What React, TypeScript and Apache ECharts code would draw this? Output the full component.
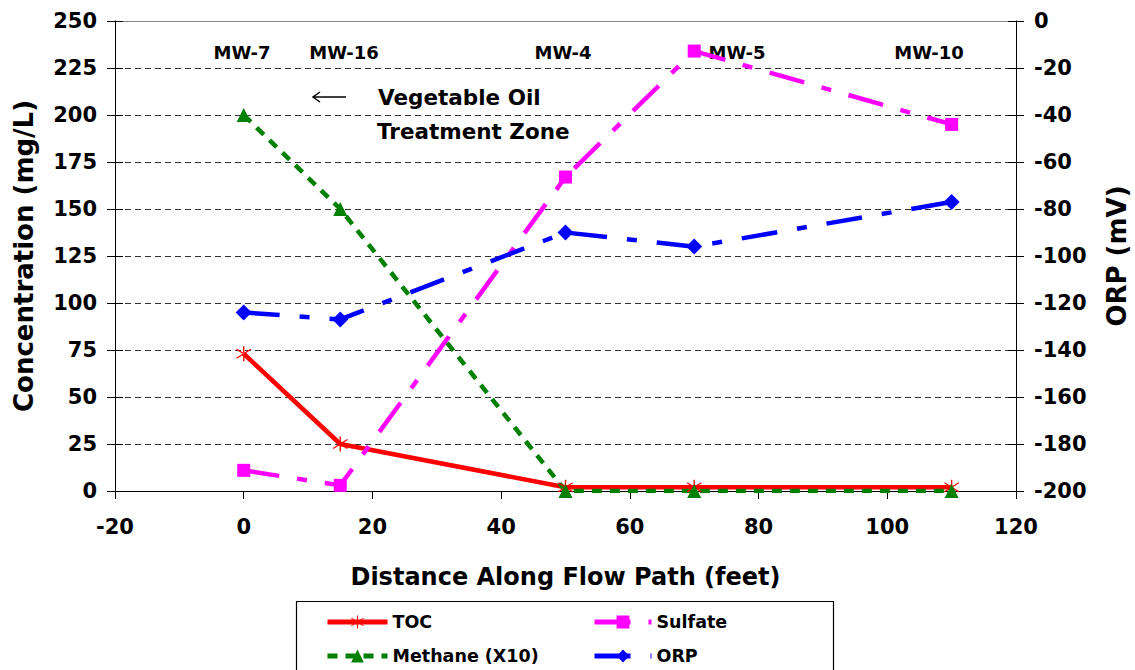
import React, { useEffect, useRef } from "react";
import * as echarts from "echarts";

const xDistance = [0, 15, 50, 70, 110];
const tocValues = [73, 25, 2, 2, 2];
const sulfateValues = [11, 3, 167, 234, 195];
const methaneValues = [200, 150, 0, 0, 0];
const orpValues = [-124, -127, -90, -96, -77];

const wellLabels = ["MW-7", "MW-16", "MW-4", "MW-5", "MW-10"];
const wellLabelX = [242, 344, 563, 737, 929];

const FONT = "DejaVu Sans";
const asterisk =
  "path://M9.2 0L10.8 0L10.8 20L9.2 20Z M1.1 4.6L18.1 16.6L18.9 15.4L1.9 3.4Z M1.9 16.6L18.9 4.6L18.1 3.4L1.1 15.4Z";

const pairs = (ys: number[]) => xDistance.map((x, i) => [x, ys[i]]);

export default function App() {
  const ref = useRef<HTMLDivElement>(null);
  useEffect(() => {
    if (!ref.current) return;
    const chart = echarts.init(ref.current, null, { renderer: "svg" });
    const tickLabel = { fontFamily: FONT, fontWeight: "bold" as const, fontSize: 21, color: "#000" };
    const nameStyle = { fontFamily: FONT, fontWeight: "bold" as const, fontSize: 24, color: "#000" };
    const yNameStyle = { fontFamily: FONT, fontWeight: "bold" as const, fontSize: 26, color: "#000" };
    const legendText = { fontFamily: FONT, fontWeight: "bold" as const, fontSize: 17.5, color: "#000" };
    const mkLegend = (name: string, left: number, top: number, w: number) => ({
      data: [name],
      left,
      top,
      itemWidth: w,
      itemHeight: 16,
      selectedMode: false,
      textStyle: legendText,
      lineStyle: { width: 5 },
    });
    chart.setOption({
      animation: false,
      backgroundColor: "#fff",
      grid: { left: 115, right: 119, top: 21, bottom: 179, containLabel: false, outerBoundsMode: "none" },
      xAxis: [
        {
          type: "value",
          min: -20,
          max: 120,
          interval: 20,
          position: "bottom",
          axisLine: { show: true, onZero: false, lineStyle: { color: "#000", width: 1 } },
          axisTick: { show: true, length: 8, lineStyle: { color: "#000" } },
          axisLabel: { ...tickLabel, margin: 25 },
          splitLine: { show: false },
          name: "Distance Along Flow Path (feet)",
          nameLocation: "middle",
          nameGap: 74,
          nameTextStyle: nameStyle,
        },
        {
          type: "value",
          min: -20,
          max: 120,
          interval: 20,
          position: "top",
          axisLine: { show: true, onZero: false, lineStyle: { color: "#888", width: 1 } },
          axisTick: { show: false },
          axisLabel: { show: false },
          splitLine: { show: false },
        },
      ],
      yAxis: [
        {
          type: "value",
          min: 0,
          max: 250,
          interval: 25,
          position: "left",
          axisLine: { show: true, onZero: false, lineStyle: { color: "#000" } },
          axisTick: { show: true, length: 8, lineStyle: { color: "#000" } },
          axisLabel: { ...tickLabel, margin: 18 },
          splitLine: { show: true, lineStyle: { color: "#333", type: [6, 4], width: 1 } },
          name: "Concentration (mg/L)",
          nameLocation: "middle",
          nameGap: 78,
          nameTextStyle: yNameStyle,
        },
        {
          type: "value",
          min: -200,
          max: 0,
          interval: 20,
          position: "right",
          axisLine: { show: true, onZero: false, lineStyle: { color: "#000" } },
          axisTick: { show: true, length: 8, lineStyle: { color: "#000" } },
          axisLabel: { ...tickLabel, margin: 18 },
          splitLine: { show: false },
          name: "ORP (mV)",
          nameLocation: "middle",
          nameGap: 88,
          nameRotate: 90,
          nameTextStyle: yNameStyle,
        },
        {
          type: "value",
          min: 0,
          max: 250,
          interval: 25,
          position: "left",
          axisLine: { show: false, onZero: false },
          axisTick: { show: true, inside: true, length: 8, lineStyle: { color: "#000" } },
          axisLabel: { show: false },
          splitLine: { show: false },
        },
        {
          type: "value",
          min: -200,
          max: 0,
          interval: 20,
          position: "right",
          axisLine: { show: false, onZero: false },
          axisTick: { show: true, inside: true, length: 8, lineStyle: { color: "#000" } },
          axisLabel: { show: false },
          splitLine: { show: false },
        },
      ],
      legend: [
        mkLegend("TOC", 320, 608, 60),
        mkLegend("Sulfate", 587, 608, 57),
        mkLegend("Methane (X10)", 320, 642, 60),
        mkLegend("ORP", 587, 642, 57),
      ],
      series: [
        {
          name: "TOC",
          type: "line",
          data: pairs(tocValues),
          symbol: asterisk,
          symbolSize: 15,
          lineStyle: { color: "#ff0000", width: 4.5 },
          itemStyle: { color: "#ff0000" },
        },
        {
          name: "Sulfate",
          type: "line",
          data: pairs(sulfateValues),
          symbol: "rect",
          symbolSize: 13,
          lineStyle: { color: "#ff00ff", width: 4.5, type: [36, 18, 10, 18] },
          itemStyle: { color: "#ff00ff" },
        },
        {
          name: "Methane (X10)",
          type: "line",
          data: pairs(methaneValues),
          symbol: "triangle",
          symbolSize: 14,
          lineStyle: { color: "#008000", width: 4.5, type: [10, 8] },
          itemStyle: { color: "#008000" },
        },
        {
          name: "ORP",
          type: "line",
          yAxisIndex: 1,
          data: pairs(orpValues),
          symbol: "diamond",
          symbolSize: 16,
          lineStyle: { color: "#0000ff", width: 4.5, type: [36, 20, 10, 20] },
          itemStyle: { color: "#0000ff" },
        },
      ],
      graphic: [
        ...wellLabels.map((t, i) => ({
          type: "text",
          x: wellLabelX[i],
          y: 52,
          style: {
            text: t,
            fontFamily: FONT,
            fontWeight: "bold",
            fontSize: 18,
            fill: "#000",
            align: "center",
            verticalAlign: "middle",
          },
        })),
        {
          type: "text",
          x: 378,
          y: 97,
          style: { text: "Vegetable Oil", fontFamily: FONT, fontWeight: "bold", fontSize: 21.5, fill: "#000", verticalAlign: "middle" },
        },
        {
          type: "text",
          x: 377,
          y: 131,
          style: { text: "Treatment Zone", fontFamily: FONT, fontWeight: "bold", fontSize: 21.5, fill: "#000", verticalAlign: "middle" },
        },
        { type: "line", shape: { x1: 313, y1: 97, x2: 346, y2: 97 }, style: { stroke: "#000", lineWidth: 1.5 } },
        { type: "polyline", shape: { points: [[320, 92], [313, 97], [320, 102]] }, style: { stroke: "#000", lineWidth: 1.5, fill: null } },
        {
          type: "rect",
          shape: { x: 296.5, y: 601.5, width: 537, height: 90 },
          style: { fill: "none", stroke: "#000", lineWidth: 1.2 },
          z: -1,
        },
      ],
    });
    return () => chart.dispose();
  }, []);
  return <div ref={ref} style={{ position: "fixed", left: 0, top: 0, width: 1135, height: 670 }} />;
}
